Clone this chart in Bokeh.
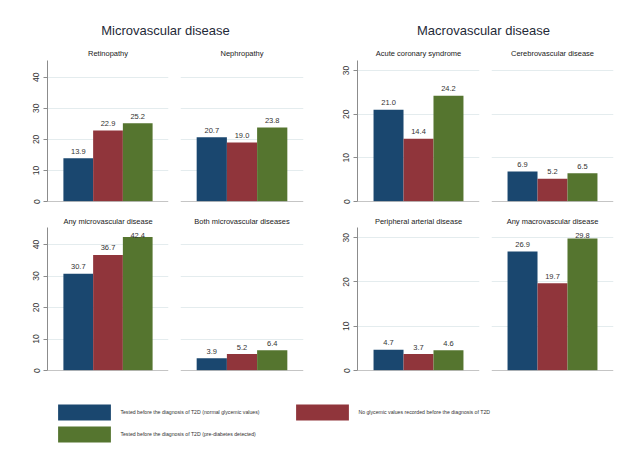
from bokeh.plotting import figure
from bokeh.layouts import column, row
from bokeh.models import Range1d, FixedTicker, Span, Legend, LegendItem, ColumnDataSource
from bokeh.embed import file_html
from bokeh.resources import INLINE

# ---------------- data ----------------
group_titles = ["Microvascular disease", "Macrovascular disease"]
panel_names = ["Retinopathy", "Nephropathy", "Acute coronary syndrome", "Cerebrovascular disease",
               "Any microvascular disease", "Both microvascular diseases",
               "Peripheral arterial disease", "Any macrovascular disease"]
series_names = ["Tested before the diagnosis of T2D (normal glycemic values)",
                "No glycemic values recorded before the diagnosis of T2D",
                "Tested before the diagnosis of T2D (pre-diabetes detected)"]
normal_values = [13.9, 20.7, 21.0, 6.9, 30.7, 3.9, 4.7, 26.9]
no_values = [22.9, 19.0, 14.4, 5.2, 36.7, 5.2, 3.7, 19.7]
prediabetes_values = [25.2, 23.8, 24.2, 6.5, 42.4, 6.4, 4.6, 29.8]
micro_ticks = [0, 10, 20, 30, 40]
macro_ticks = [0, 10, 20, 30]

colors = ["#1a476f", "#90353b", "#55752f"]
FONT = "Liberation Sans"
AXIS_COL = "#8c8c8c"
GRID_COL = "#e4ecee"

series = [normal_values, no_values, prediabetes_values]


def make_panel(idx, width, bl, br, height, bt, bb, ymax, ticks, show_axis, standoff):
    p = figure(width=width, height=height, output_backend="svg", toolbar_location=None,
               x_range=Range1d(-0.035, 4.035), y_range=Range1d(0, ymax),
               x_axis_location=None, min_border_left=bl, min_border_right=br,
               min_border_top=bt, min_border_bottom=bb, title=panel_names[idx])
    p.outline_line_color = None
    p.background_fill_color = "white"
    p.border_fill_color = "white"
    p.xgrid.visible = False
    p.title.align = "center"
    p.title.text_font = FONT
    p.title.text_font_size = "7.5px"
    p.title.text_font_style = "normal"
    p.title.text_color = "#1a1a1a"
    p.title.standoff = standoff
    xs = list(range(1, len(series) + 1))
    vals = [s[idx] for s in series]
    # labels sit 7px above a bar, but are kept inside the plot region (as Stata does)
    frame_h = height - bt - bb
    unit = ymax / frame_h
    label_y = [min(v + 7 * unit, ymax - 8 * unit) for v in vals]
    src = ColumnDataSource(dict(x=xs, top=vals, ly=label_y, color=colors,
                                label=["%.1f" % v for v in vals]))
    p.vbar(x="x", top="top", width=1, fill_color="color", line_color=None, source=src)
    p.text(x="x", y="ly", text="label", source=src, text_align="center",
           text_baseline="alphabetic", text_font_size="7.5px",
           text_color="#333333", text_font={"value": FONT})
    p.yaxis.ticker = FixedTicker(ticks=ticks)
    p.ygrid.ticker = FixedTicker(ticks=ticks[1:])
    p.ygrid.grid_line_color = GRID_COL
    p.ygrid.grid_line_width = 1
    if show_axis:
        ax = p.yaxis[0]
        ax.axis_line_color = AXIS_COL
        ax.major_tick_line_color = AXIS_COL
        ax.major_tick_out = 4
        ax.major_tick_in = 0
        ax.minor_tick_line_color = None
        ax.major_label_orientation = "vertical"
        ax.major_label_text_font = FONT
        ax.major_label_text_font_size = "8.5px"
        ax.major_label_text_color = "#333333"
        ax.major_label_standoff = 4
    else:
        p.yaxis.visible = False
    p.add_layout(Span(location=0, dimension="width", line_color=AXIS_COL, line_width=1))
    return p


def title_fig(text, width):
    t = figure(width=width, height=44, output_backend="svg", toolbar_location=None,
               x_range=Range1d(0, 1), y_range=Range1d(0, 1), title=text,
               x_axis_location=None, y_axis_location=None,
               min_border_left=0, min_border_right=0, min_border_top=37, min_border_bottom=0)
    t.outline_line_color = None
    t.xgrid.visible = False
    t.ygrid.visible = False
    t.title.align = "center"
    t.title.text_font = FONT
    t.title.text_font_size = "13px"
    t.title.text_font_style = "normal"
    t.title.text_color = "#1f2a38"
    t.title.standoff = 0
    return t


# the page body has no margin, so the first column carries an extra 8px
widths = [(174, 47, 6), (144, 6, 15), (167, 39, 6), (147, 6, 19)]
ymaxes = [45.4, 45.4, 32.3, 32.3]
tick_sets = [micro_ticks, micro_ticks, macro_ticks, macro_ticks]
axes_shown = [True, False, True, False]

row1 = []
row2 = []
for c in range(4):
    w, bl, br = widths[c]
    row1.append(make_panel(c, w, bl, br, 166, 14, 9, ymaxes[c], tick_sets[c], axes_shown[c], 5))
    row2.append(make_panel(c + 4, w, bl, br, 170, 17, 10, ymaxes[c], tick_sets[c], axes_shown[c], 3))

titles = row(title_fig(group_titles[0], 330), title_fig(group_titles[1], 306))

# legend figure
lf = figure(width=632, height=77, output_backend="svg", toolbar_location=None,
            x_range=Range1d(0, 1), y_range=Range1d(0, 1),
            x_axis_location=None, y_axis_location=None,
            min_border_left=0, min_border_right=0, min_border_top=0, min_border_bottom=0)
lf.outline_line_color = None
lf.xgrid.visible = False
lf.ygrid.visible = False
rends = []
for col in colors:
    rends.append(lf.vbar(x=[-10], top=[0], width=1, fill_color=col, line_color=None))
order = [0, 2, 1]
items = [LegendItem(label=series_names[i], renderers=[rends[i]]) for i in order]
leg = Legend(items=items, location=(51.4, 13), orientation="vertical", ncols=2,
             glyph_width=66, glyph_height=20, label_standoff=3, label_width=167,
             label_height=20, spacing=2, padding=0, margin=0,
             border_line_color=None, background_fill_alpha=0,
             label_text_font=FONT, label_text_font_size="5.2px", label_text_color="#333333")
lf.add_layout(leg, "center")

layout = column(titles, row(*row1), row(*row2), lf)

open("out.html", "w").write(file_html(layout, INLINE))
